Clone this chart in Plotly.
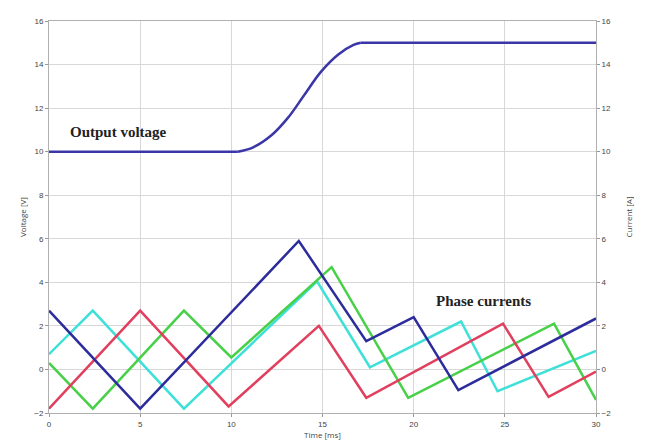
import plotly.graph_objects as go

# Output voltage
volt_t = [0, 10.35, 11.2, 12.2, 13.1, 14.0, 14.9, 15.85, 16.7, 17.1, 30]
volt_v = [10, 10, 10.2, 10.75, 11.55, 12.6, 13.65, 14.45, 14.9, 15.0, 15.0]

# Phase currents
blue_t = [0, 5, 13.7, 17.4, 20.0, 22.45, 30]
blue_v = [2.7, -1.8, 5.9, 1.3, 2.4, -0.95, 2.34]
red_t = [0, 5, 9.85, 14.8, 17.4, 24.9, 27.4, 30]
red_v = [-1.8, 2.7, -1.7, 2.0, -1.3, 2.1, -1.26, -0.1]
green_t = [0, 2.4, 7.4, 10.0, 15.5, 19.7, 27.7, 30]
green_v = [0.3, -1.8, 2.7, 0.55, 4.7, -1.3, 2.1, -1.4]
cyan_t = [0, 2.4, 7.4, 14.7, 17.6, 22.6, 24.6, 30]
cyan_v = [0.7, 2.7, -1.8, 4.05, 0.1, 2.2, -1.0, 0.85]

y_ticks = [-2, 0, 2, 4, 6, 8, 10, 12, 14, 16]
x_ticks = [0, 5, 10, 15, 20, 25, 30]

fig = go.Figure()
for t, v, c in [(cyan_t, cyan_v, "#3fe0d8"), (green_t, green_v, "#48d048"),
                (red_t, red_v, "#e0405e"), (blue_t, blue_v, "#2c2c9c")]:
    fig.add_trace(go.Scatter(x=t, y=v, mode="lines", line=dict(color=c, width=2.5),
                             showlegend=False))
vcol = "#3a36a8"
# flat parts linear, transition smoothed
fig.add_trace(go.Scatter(x=volt_t[:2], y=volt_v[:2], mode="lines", line=dict(color=vcol, width=2.5), showlegend=False))
fig.add_trace(go.Scatter(x=volt_t[1:-1], y=volt_v[1:-1], mode="lines",
                         line=dict(color=vcol, width=2.5, shape="spline", smoothing=1.0), showlegend=False))
fig.add_trace(go.Scatter(x=volt_t[-2:], y=volt_v[-2:], mode="lines", line=dict(color=vcol, width=2.5), showlegend=False))
# invisible trace for right axis
fig.add_trace(go.Scatter(x=[0], y=[0], yaxis="y2", mode="markers", marker=dict(opacity=0),
                         showlegend=False, hoverinfo="skip"))

axis_common = dict(gridcolor="#d8d8d8", gridwidth=1, showline=True,
                   linecolor="#b0b0b0", linewidth=1, ticks="outside", ticklen=3,
                   tickcolor="#999", tickfont=dict(size=8, color="#444", family="Liberation Sans"),
                   zeroline=False)

fig.update_layout(
    width=638, height=439,
    margin=dict(l=41, r=50, t=9, b=31),
    plot_bgcolor="white", paper_bgcolor="white",
    xaxis=dict(range=[0, 30], tickvals=x_ticks, showgrid=True,
               title=dict(text="Time [ms]", font=dict(size=8, color="#444"), standoff=4),
               mirror=True, **axis_common),
    yaxis=dict(range=[-2, 16], tickvals=y_ticks, showgrid=True,
               title=dict(text="Voltage [V]", font=dict(size=8, color="#444"), standoff=6),
               **axis_common),
    yaxis2=dict(range=[-2, 16], tickvals=y_ticks, overlaying="y", side="right", showgrid=False,
                title=dict(text="Current [A]", font=dict(size=8, color="#444"), standoff=16),
                **axis_common),
    annotations=[
        dict(x=1.05, y=10.9, xref="x", yref="y", text="<b>Output voltage</b>", showarrow=False,
             xanchor="left", font=dict(family="Liberation Serif", size=15, color="#222")),
        dict(x=21.1, y=3.15, xref="x", yref="y", text="<b>Phase currents</b>", showarrow=False,
             xanchor="left", font=dict(family="Liberation Serif", size=15, color="#222")),
    ],
)

fig.write_html("out.html")
